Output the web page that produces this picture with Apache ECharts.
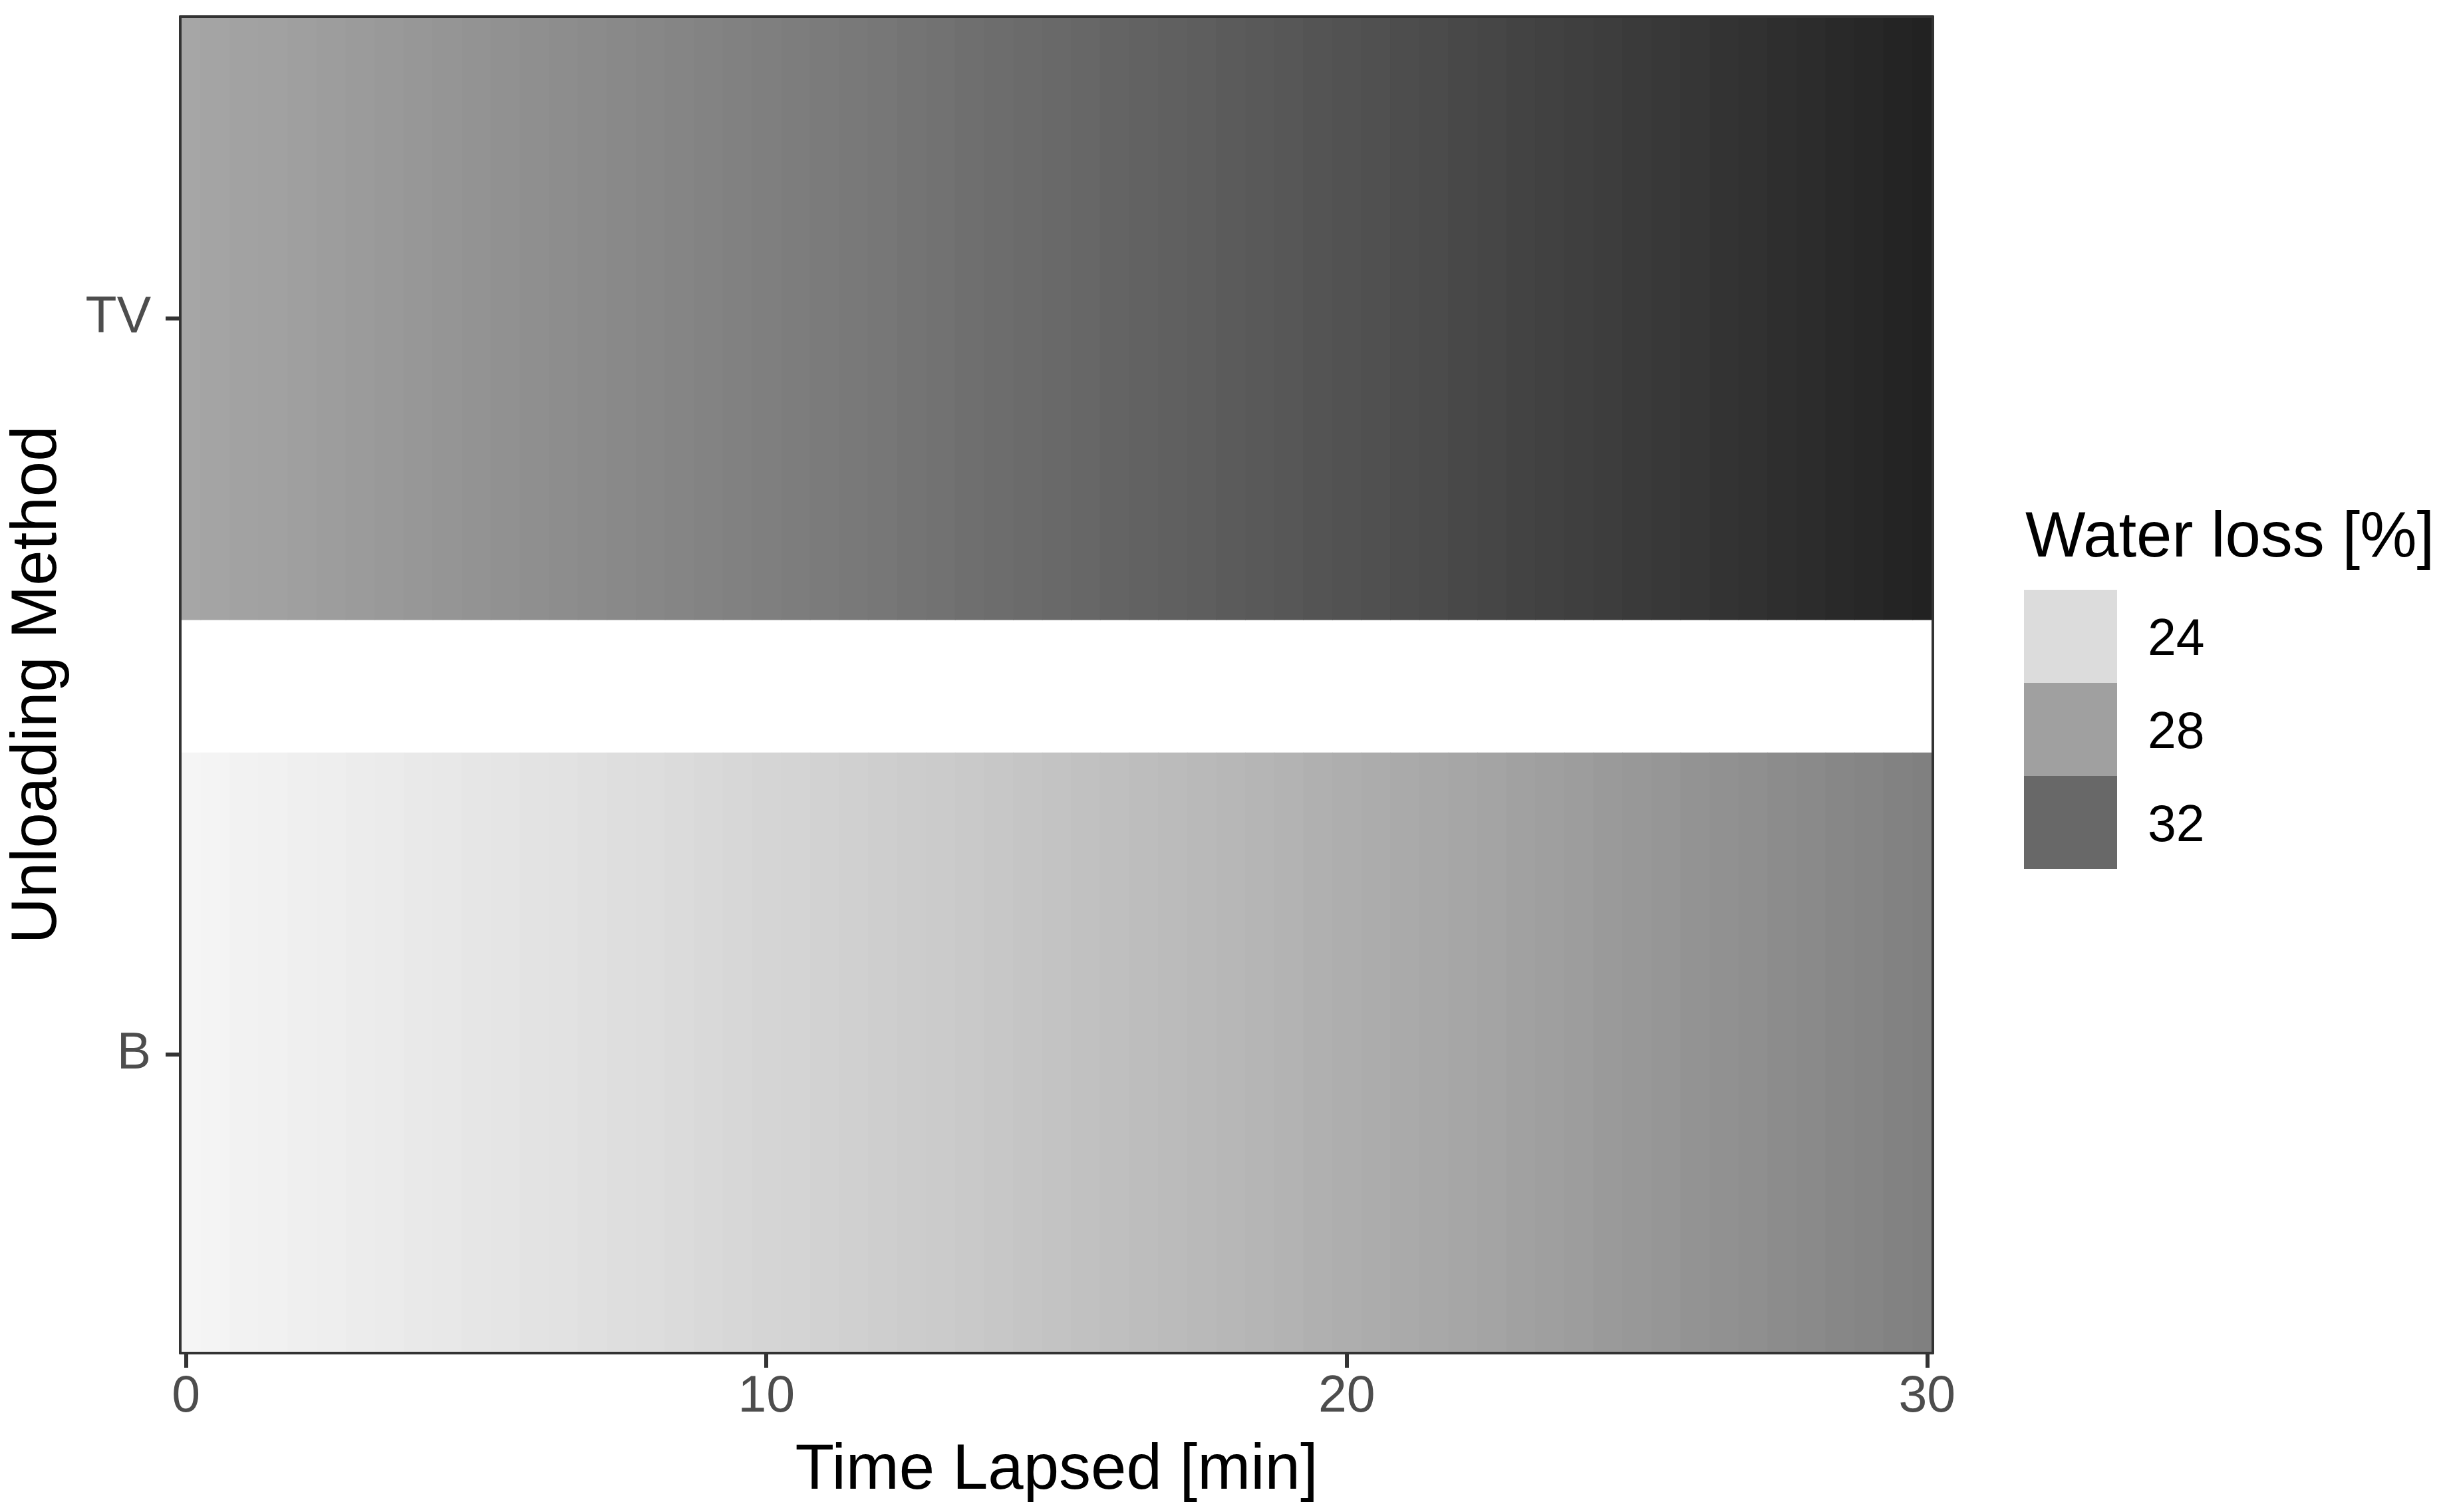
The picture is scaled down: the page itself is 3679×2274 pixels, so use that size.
<!DOCTYPE html>
<html><head><meta charset="utf-8">
<script src="https://cdn.jsdelivr.net/npm/echarts@6/dist/echarts.min.js"></script>
<style>html,body{margin:0;padding:0;background:#fff}#c{width:3679px;height:2274px}</style>
</head><body><div id="c"></div>
<script>
// ---- data ----
const methods = ['B', 'TV'];
const methodPos = [1, 2];
const timeMin = [0,0.5,1,1.5,2,2.5,3,3.5,4,4.5,5,5.5,6,6.5,7,7.5,8,8.5,9,9.5,10,10.5,11,11.5,12,12.5,13,13.5,14,14.5,15,15.5,16,16.5,17,17.5,18,18.5,19,19.5,20,20.5,21,21.5,22,22.5,23,23.5,24,24.5,25,25.5,26,26.5,27,27.5,28,28.5,29,29.5,30];
const waterLossB = [22.41,22.50,22.58,22.67,22.76,22.85,22.95,23.04,23.14,23.23,23.33,23.43,23.54,23.64,23.75,23.85,23.96,24.07,24.18,24.30,24.41,24.53,24.64,24.76,24.88,25.01,25.13,25.25,25.38,25.51,25.64,25.77,25.90,26.04,26.17,26.31,26.45,26.59,26.73,26.88,27.02,27.17,27.32,27.47,27.62,27.77,27.93,28.08,28.24,28.40,28.56,28.72,28.89,29.05,29.22,29.39,29.56,29.73,29.90,30.07,30.25];
const waterLossTV = [27.60,27.72,27.85,27.97,28.10,28.23,28.36,28.49,28.62,28.76,28.89,29.03,29.17,29.31,29.45,29.59,29.74,29.89,30.03,30.18,30.33,30.49,30.64,30.80,30.95,31.11,31.27,31.44,31.60,31.76,31.93,32.10,32.27,32.44,32.61,32.78,32.96,33.14,33.32,33.50,33.68,33.86,34.05,34.23,34.42,34.61,34.80,34.99,35.19,35.38,35.58,35.78,35.98,36.18,36.38,36.58,36.79,37.00,37.21,37.42,37.63];
const xTicks = [0, 10, 20, 30];
const legendValues = [24, 28, 32];
const legendTitle = 'Water loss [%]';
const xTitle = 'Time Lapsed [min]';
const yTitle = 'Unloading Method';

// ---- style helpers ----
const FONT = 'Liberation Sans, Arial, sans-serif';
function grayForValue(v) {
  const L = 87.8 - 5.475 * (v - 24);
  const fy = (L + 16) / 116;
  const Y = L > 8 ? fy * fy * fy : L / 903.3;
  let g = Y <= 0.0031308 ? 12.92 * Y : 1.055 * Math.pow(Y, 1 / 2.4) - 0.055;
  const c = Math.round(Math.max(0, Math.min(1, g)) * 255);
  return 'rgb(' + c + ',' + c + ',' + c + ')';
}
const allVals = waterLossB.concat(waterLossTV);
const vMin = Math.min.apply(null, allVals);
const vMax = Math.max.apply(null, allVals);
const colorStops = [];
for (let k = 0; k <= 20; k++) colorStops.push(grayForValue(vMin + (vMax - vMin) * k / 20));

const rows = [waterLossB, waterLossTV];
const tileData = [];
rows.forEach((vals, r) => vals.forEach((v, i) => tileData.push([timeMin[i], methodPos[r], v])));
const halfW = (timeMin[1] - timeMin[0]) / 2;
const halfH = 0.41;

const chart = echarts.init(document.getElementById('c'), null, {renderer: 'canvas'});
const axisLineStyle = {color: '#333333', width: 4};
chart.setOption({
  animation: false,
  backgroundColor: '#ffffff',
  grid: {left: 271, top: 25, width: 2635, height: 2010, containLabel: false},
  xAxis: [{
    type: 'value', min: -0.1, max: 30.1, position: 'bottom', z: 10,
    axisLine: {show: true, onZero: false, lineStyle: axisLineStyle},
    axisTick: {show: true, customValues: xTicks, length: 22, lineStyle: {color: '#333333', width: 6}},
    axisLabel: {show: true, customValues: xTicks, margin: 28, fontSize: 77, color: '#4d4d4d', fontFamily: FONT},
    splitLine: {show: false},
    name: xTitle, nameLocation: 'middle', nameGap: 130,
    nameTextStyle: {fontSize: 96, color: '#000000', fontFamily: FONT}
  }, {
    type: 'value', min: -0.1, max: 30.1, position: 'top', z: 10,
    axisLine: {show: true, onZero: false, lineStyle: axisLineStyle},
    axisTick: {show: false}, axisLabel: {show: false}, splitLine: {show: false}
  }],
  yAxis: [{
    type: 'value', min: 0.594, max: 2.41, position: 'left', z: 10,
    axisLine: {show: true, onZero: false, lineStyle: axisLineStyle},
    axisTick: {show: true, customValues: methodPos, length: 22, lineStyle: {color: '#333333', width: 6}},
    axisLabel: {show: true, customValues: methodPos, margin: 44, fontSize: 77, color: '#4d4d4d', fontFamily: FONT,
      formatter: function (v) { const k = methodPos.indexOf(Math.round(v)); return k >= 0 ? methods[k] : ''; }},
    splitLine: {show: false},
    name: yTitle, nameLocation: 'middle', nameGap: 165,
    nameTextStyle: {fontSize: 96, color: '#000000', fontFamily: FONT}
  }, {
    type: 'value', min: 0.594, max: 2.41, position: 'right', z: 10,
    axisLine: {show: true, onZero: false, lineStyle: axisLineStyle},
    axisTick: {show: false}, axisLabel: {show: false}, splitLine: {show: false}
  }],
  visualMap: {
    type: 'continuous', show: false, min: vMin, max: vMax, dimension: 2, seriesIndex: 0,
    inRange: {color: colorStops}
  },
  series: [{
    type: 'custom',
    xAxisIndex: 0, yAxisIndex: 0,
    data: tileData,
    renderItem: function (params, api) {
      const x = api.value(0), y = api.value(1);
      const p0 = api.coord([x - halfW, y + halfH]);
      const p1 = api.coord([x + halfW, y - halfH]);
      const cs = params.coordSys;
      const shape = echarts.graphic.clipRectByRect(
        {x: p0[0], y: p0[1], width: p1[0] - p0[0] + 0.8, height: p1[1] - p0[1]},
        {x: cs.x, y: cs.y, width: cs.width, height: cs.height});
      return shape && {type: 'rect', shape: shape, style: {fill: api.visual('color'), stroke: null}};
    }
  }],
  graphic: [
    {type: 'text', x: 3045, y: 811, style: {text: legendTitle, fontSize: 96, fontFamily: FONT, fill: '#000000', align: 'left', verticalAlign: 'middle'}}
  ].concat(legendValues.map((v, i) => ({
    type: 'rect', shape: {x: 3043, y: 887 + i * 140, width: 140, height: 140}, style: {fill: grayForValue(v)}
  }))).concat(legendValues.map((v, i) => ({
    type: 'text', x: 3229, y: 964 + i * 140, style: {text: String(v), fontSize: 77, fontFamily: FONT, fill: '#000000', align: 'left', verticalAlign: 'middle'}
  })))
});
</script>
</body></html>
